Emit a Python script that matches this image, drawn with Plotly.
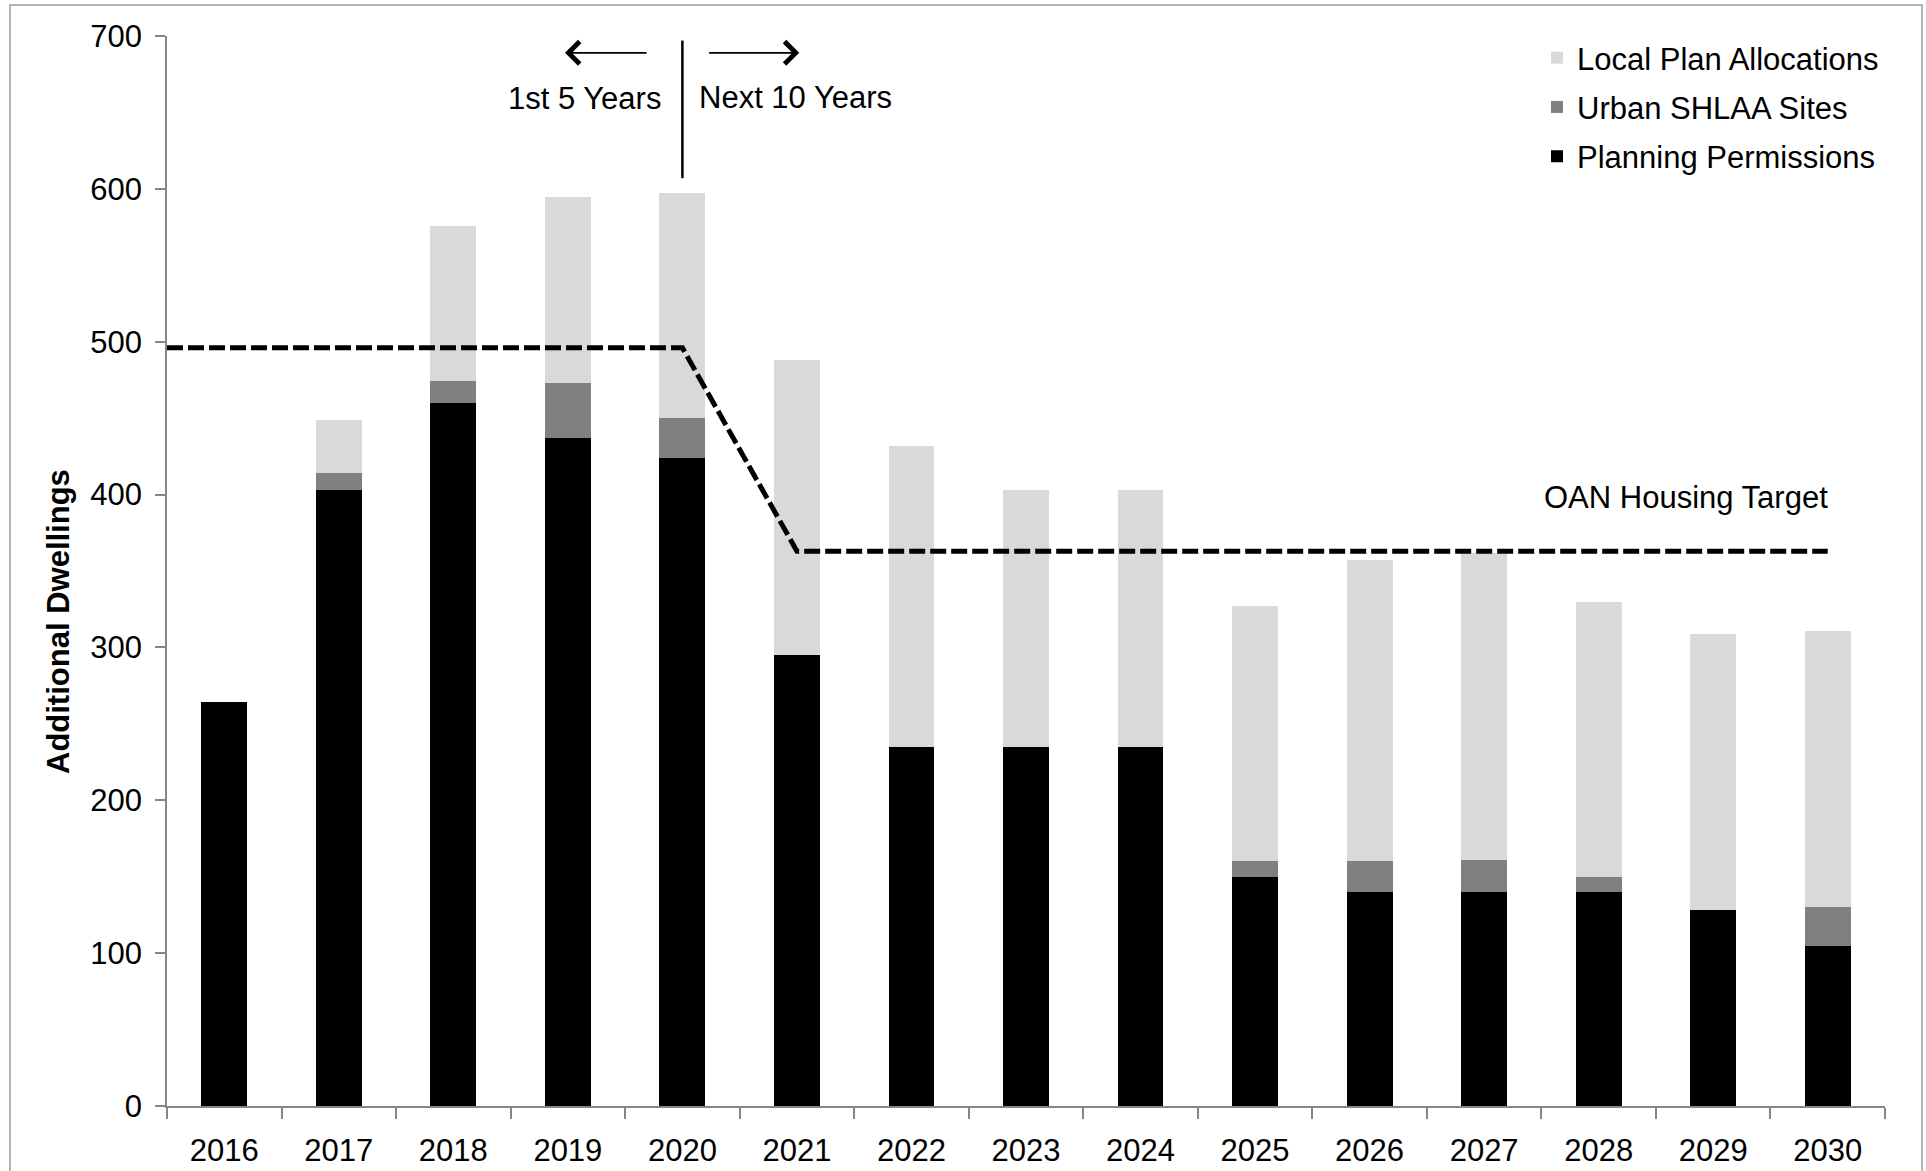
import plotly.graph_objects as go

# ---------------- data ----------------
years = [2016, 2017, 2018, 2019, 2020, 2021, 2022, 2023, 2024, 2025, 2026, 2027, 2028, 2029, 2030]
planning_permissions = [264, 403, 460, 437, 424, 295, 235, 235, 235, 150, 140, 140, 140, 128, 105]
urban_shlaa_sites = [0, 11, 14, 36, 26, 0, 0, 0, 0, 10, 20, 21, 10, 0, 25]
local_plan_allocations = [0, 35, 102, 122, 147, 193, 197, 168, 168, 167, 197, 201, 180, 181, 181]

target_years = [2015.5, 2020, 2021, 2030]
target_values = [496, 496, 363, 363]

y_ticks = [0, 100, 200, 300, 400, 500, 600, 700]

# ---------------- layout constants (pixels) ----------------
W, H = 1926, 1171
ML, MR, MT, MB = 167, 41, 36, 65
PW, PH = W - ML - MR, H - MT - MB

def px_x(p):
    return (p - ML) / PW

def px_y(p):
    return (H - MB - p) / PH

FONT = "Liberation Sans, Arial, sans-serif"
AXIS_COL = "#868686"

x_pos = [y - years[0] for y in years]
target_x = [y - years[0] for y in target_years]

fig = go.Figure()
fig.add_trace(go.Bar(x=x_pos, y=planning_permissions, name="Planning Permissions",
                     marker=dict(color="#000000", line=dict(width=0)), width=0.4,
                     legendgroup="pp", legendrank=3))
fig.add_trace(go.Bar(x=x_pos, y=urban_shlaa_sites, name="Urban SHLAA Sites",
                     marker=dict(color="#808080", line=dict(width=0)), width=0.4,
                     legendgroup="us", legendrank=2))
fig.add_trace(go.Bar(x=x_pos, y=local_plan_allocations, name="Local Plan Allocations",
                     marker=dict(color="#D9D9D9", line=dict(width=0)), width=0.4,
                     legendgroup="lp", legendrank=1))
fig.add_trace(go.Scatter(x=target_x, y=target_values, mode="lines", showlegend=False,
                         line=dict(color="#000000", width=5, dash="16px,5px")))

idx2020 = years.index(2020)
divider_y = [607, 697]
arrow_y = 689

annotations = [
    dict(x=3.83, y=659, text="1st 5 Years", showarrow=False, xanchor="right", yanchor="middle",
         font=dict(size=31, color="#000000", family=FONT)),
    dict(x=4.13, y=660, text="Next 10 Years", showarrow=False, xanchor="left", yanchor="middle",
         font=dict(size=31, color="#000000", family=FONT)),
    dict(x=12.76, y=398, text="OAN Housing Target", showarrow=False, xanchor="center", yanchor="middle",
         font=dict(size=31, color="#000000", family=FONT)),
    dict(x=2.975, y=arrow_y, ax=3.70, ay=arrow_y, axref="x", ayref="y", xref="x", yref="y",
         text="", showarrow=True, arrowhead=4, arrowsize=2.4, arrowwidth=1.8, arrowcolor="#000000",
         standoff=0, startstandoff=0),
    dict(x=5.02, y=arrow_y, ax=4.22, ay=arrow_y, axref="x", ayref="y", xref="x", yref="y",
         text="", showarrow=True, arrowhead=4, arrowsize=2.4, arrowwidth=1.8, arrowcolor="#000000",
         standoff=0, startstandoff=0),
    dict(xref="paper", yref="paper", x=px_x(58), y=px_y(622), text="<b>Additional Dwellings</b>",
         textangle=-90, showarrow=False, xanchor="center", yanchor="middle",
         font=dict(size=31, color="#000000", family=FONT)),
]

shapes = [
    dict(type="line", xref="x", yref="y", x0=idx2020, x1=idx2020, y0=divider_y[0], y1=divider_y[1],
         line=dict(color="#000000", width=2.5)),
    dict(type="rect", xref="paper", yref="paper", x0=px_x(10), x1=px_x(1922), y0=px_y(1200), y1=px_y(5),
         line=dict(color="#9A9A9A", width=1.5), layer="below"),
]

fig.update_layout(
    width=W, height=H,
    margin=dict(l=ML, r=MR, t=MT, b=MB, pad=0),
    barmode="stack",
    paper_bgcolor="#FFFFFF", plot_bgcolor="#FFFFFF",
    font=dict(family=FONT, size=31, color="#000000"),
    showlegend=True,
    legend=dict(x=px_x(1537), y=px_y(31), xanchor="left", yanchor="top",
                traceorder="grouped", tracegroupgap=6,
                font=dict(size=31, family=FONT, color="#000000"),
                bgcolor="rgba(0,0,0,0)", borderwidth=0),
    annotations=annotations,
    shapes=shapes,
)

fig.update_xaxes(
    range=[-0.5, 14.5], tickmode="array", tickvals=x_pos, ticktext=[str(y) for y in years],
    ticks="", showline=True, linecolor=AXIS_COL, linewidth=1.5, showgrid=False, zeroline=False,
    tickfont=dict(size=31, family=FONT, color="#000000"), ticklabelstandoff=16, automargin=False,
    minor=dict(tick0=-0.5, dtick=1, ticks="outside", ticklen=11, tickcolor=AXIS_COL, tickwidth=1.5,
               showgrid=False),
)
fig.update_yaxes(
    range=[0, 700], tickmode="array", tickvals=y_ticks, ticks="outside", ticklen=10,
    tickcolor=AXIS_COL, tickwidth=1.5, showline=True, linecolor=AXIS_COL, linewidth=1.5,
    showgrid=False, zeroline=False, tickfont=dict(size=31, family=FONT, color="#000000"),
    ticklabelstandoff=7, automargin=False,
)

page_fix = (
    "var s=document.createElement('style');"
    "s.textContent='html,body{margin:0;padding:0;overflow:hidden;width:1926px;height:1171px;}"
    "body>div{line-height:0;font-size:0;height:1171px;overflow:hidden;}';"
    "document.head.appendChild(s);"
)

fig.write_html("out.html", config={"displayModeBar": False}, post_script=page_fix)
